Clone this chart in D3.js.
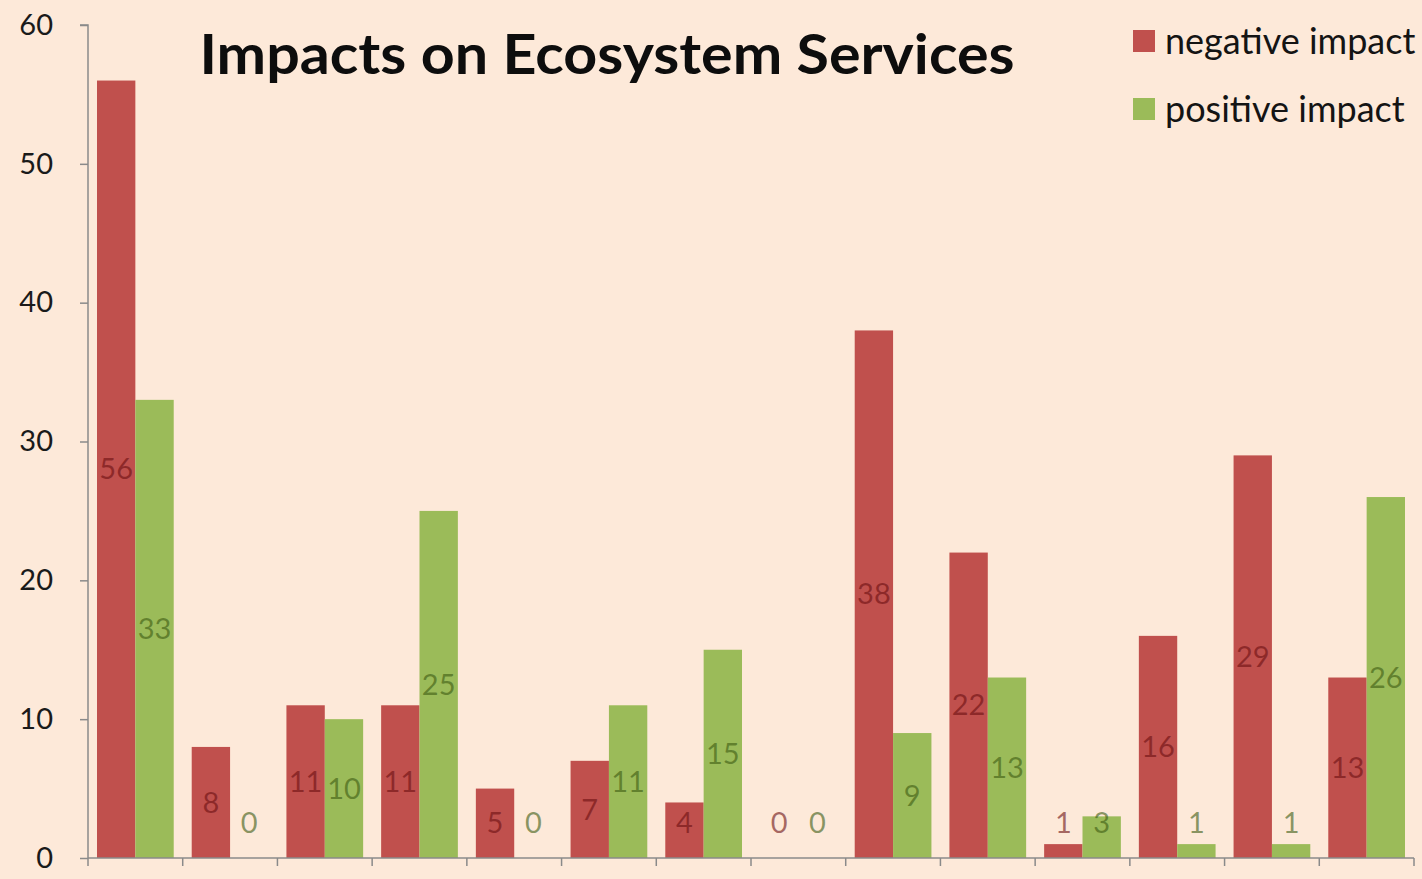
<!DOCTYPE html>
<html>
<head>
<meta charset="utf-8">
<script src="https://cdn.jsdelivr.net/npm/d3@7"></script>
<style>
  html, body { margin: 0; padding: 0; background: #fde9d9; }
  svg { display: block; }
  text { font-family: Lato, "Open Sans", sans-serif; }
</style>
</head>
<body>
<svg id="chart" width="1422" height="879"></svg>
<script>
// Ecosystem service groups (unlabelled on the axis)
const categories = ["S1","S2","S3","S4","S5","S6","S7","S8","S9","S10","S11","S12","S13","S14"];
const negativeImpact = [56, 8, 11, 11, 5, 7, 4, 0, 38, 22, 1, 16, 29, 13];
const positiveImpact = [33, 0, 10, 25, 0, 11, 15, 0, 9, 13, 3, 1, 1, 26];
const seriesNames = ["negative impact", "positive impact"];
const yTicks = [0, 10, 20, 30, 40, 50, 60];
const chartTitle = "Impacts on Ecosystem Services";

const W = 1422, H = 879;
const margin = { left: 88, right: 8, top: 25, bottom: 21 };
const colors = { neg: "#c0504d", pos: "#9bbb59" };
const labelColors = { neg: "#6b0f12", pos: "#3b5a12" };

const svg = d3.select("#chart");
svg.append("rect").attr("width", W).attr("height", H).attr("fill", "#fde9d9");

const x0 = d3.scaleBand()
  .domain(categories)
  .range([margin.left, W - margin.right])
  .paddingInner(0.19)
  .paddingOuter(0.095);

const x1 = d3.scaleBand()
  .domain(["neg", "pos"])
  .range([0, x0.bandwidth()]);

const y = d3.scaleLinear().domain([0, 60]).range([H - margin.bottom, margin.top]);

const data = categories.map((c, i) => ({ cat: c, neg: negativeImpact[i], pos: positiveImpact[i] }));

// bars
const groups = svg.append("g").selectAll("g")
  .data(data).join("g")
  .attr("transform", d => `translate(${x0(d.cat)},0)`);

groups.selectAll("rect")
  .data(d => ["neg", "pos"].map(k => ({ key: k, value: d[k] })))
  .join("rect")
  .attr("x", d => x1(d.key))
  .attr("width", x1.bandwidth())
  .attr("y", d => y(d.value))
  .attr("height", d => y(0) - y(d.value))
  .attr("fill", d => colors[d.key]);

// value labels, centred in the bar but kept clear of the axis
const minLabelY = y(0) - 35;
groups.selectAll("text")
  .data(d => ["neg", "pos"].map(k => ({ key: k, value: d[k] })))
  .join("text")
  .attr("x", d => x1(d.key) + x1.bandwidth() / 2)
  .attr("y", d => Math.min((y(d.value) + y(0)) / 2, minLabelY))
  .attr("dy", "0.35em")
  .attr("text-anchor", "middle")
  .attr("font-size", 29)
  .attr("fill", d => labelColors[d.key])
  .attr("fill-opacity", 0.6)
  .text(d => d.value);

// y axis
const yAxis = svg.append("g")
  .attr("transform", `translate(${margin.left},0)`)
  .call(d3.axisLeft(y).tickValues(yTicks).tickSize(8).tickPadding(27));
yAxis.selectAll("path, line").attr("stroke", "#8a8a8a").attr("stroke-width", 1.5);
yAxis.select(".domain").attr("d", `M-8,${y(60)}H0V${y(0)}`);
yAxis.selectAll("text")
  .attr("font-size", 29)
  .attr("fill", "#1a1a1a")
  .style("font-family", "Lato, 'Open Sans', sans-serif");

// x axis with tick marks on the category boundaries
const xAxisG = svg.append("g").attr("transform", `translate(0,${y(0)})`);
xAxisG.append("line")
  .attr("x1", margin.left).attr("x2", W - margin.right)
  .attr("stroke", "#8a8a8a").attr("stroke-width", 1.5);
const bounds = d3.range(categories.length + 1)
  .map(i => margin.left + i * (W - margin.right - margin.left) / categories.length);
xAxisG.selectAll("line.tick")
  .data(bounds).join("line")
  .attr("class", "tick")
  .attr("x1", d => d).attr("x2", d => d)
  .attr("y1", 0).attr("y2", 8)
  .attr("stroke", "#8a8a8a").attr("stroke-width", 1.5);

// title
svg.append("text")
  .attr("x", 607).attr("y", 74)
  .attr("text-anchor", "middle")
  .attr("font-size", 56)
  .attr("font-weight", "bold")
  .attr("textLength", 815)
  .attr("lengthAdjust", "spacingAndGlyphs")
  .attr("fill", "#0d0d0d")
  .text(chartTitle);

// legend
const legend = svg.append("g").selectAll("g")
  .data(seriesNames).join("g")
  .attr("transform", (d, i) => `translate(1133,${30 + i * 68})`);
legend.append("rect")
  .attr("width", 22).attr("height", 22)
  .attr("fill", (d, i) => i === 0 ? colors.neg : colors.pos);
legend.append("text")
  .attr("x", 32).attr("y", 11).attr("dy", "0.35em")
  .attr("font-size", 36)
  .attr("fill", "#141414")
  .text(d => d);
</script>
</body>
</html>
